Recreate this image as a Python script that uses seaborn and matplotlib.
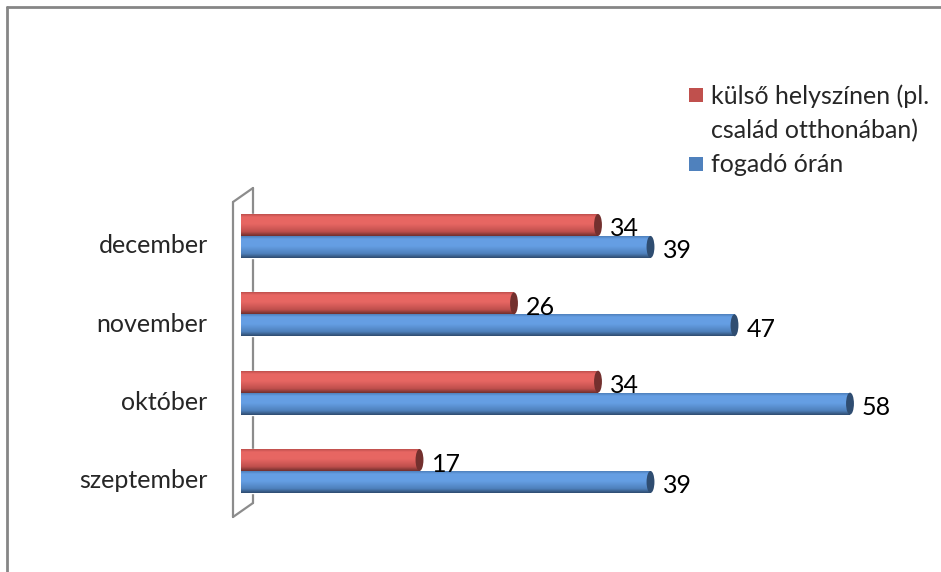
import numpy as np
import pandas as pd
import matplotlib
matplotlib.use("Agg")
import matplotlib.pyplot as plt
from matplotlib.lines import Line2D
from matplotlib.patches import Rectangle, Ellipse
from matplotlib.colors import to_rgb
import matplotlib.transforms as mtrans
import seaborn as sns

# --- data ---
months = ["december", "november", "október", "szeptember"]
series_names = ["külső helyszínen (pl.\ncsalád otthonában)", "fogadó órán"]
kulso = [34, 26, 34, 17]
fogado = [39, 47, 58, 39]

RED = "#C0504D"
BLUE = "#4F81BD"
FONT = "Lato"
FS = 18

df = pd.DataFrame({
    "honap": months * 2,
    "ertek": kulso + fogado,
    "sorozat": [series_names[0]] * len(months) + [series_names[1]] * len(months),
})

sns.set_style("white")
plt.rcParams["font.family"] = [FONT, "DejaVu Sans"]

W, H = 941, 572
fig = plt.figure(figsize=(W / 100, H / 100), dpi=100)
ax = fig.add_axes([241 / W, 1 - 518 / H, 630 / W, (518 - 185) / H])

sns.barplot(data=df, y="honap", x="ertek", hue="sorozat", orient="h",
            palette=[RED, BLUE], hue_order=series_names, order=months,
            width=0.56, gap=0, saturation=1, legend=False, ax=ax)

XMAX = 60


def shades(base):
    b = np.array(to_rgb(base))
    light = np.clip(b * 1.15 + 0.04, 0, 1)
    dark = b * 0.6
    stops = np.array([0.0, 0.12, 0.45, 0.8, 1.0])
    cols = np.array([b, light, light, b, dark])
    t = np.linspace(0, 1, 40)
    grad = np.stack([np.interp(t, stops, cols[:, k]) for k in range(3)], axis=1)
    return grad[:, None, :], tuple(dark)


# cylinder shading on the seaborn bars
for p in list(ax.patches):
    fc = p.get_facecolor()[:3]
    base = RED if np.allclose(fc, to_rgb(RED), atol=0.02) else BLUE
    x0, y0 = p.get_x(), p.get_y()
    w, h = p.get_width(), p.get_height()
    grad, dark = shades(base)
    im = ax.imshow(grad, extent=(x0, x0 + w, y0 + h, y0), origin="upper",
                   aspect="auto", zorder=2, interpolation="bilinear")
    im.set_clip_path(p)
    cap = Ellipse((x0 + w, y0 + h / 2), 0.75, h, facecolor=dark,
                  edgecolor="none", zorder=3)
    ax.add_patch(cap)
    off = mtrans.offset_copy(ax.transData, fig=fig, x=12, y=-4, units="dots")
    ax.text(x0 + w, y0 + h / 2, f"{w:.0f}", transform=off, ha="left",
            va="center", fontsize=FS, color="black", zorder=4)

ax.set_xlim(0, XMAX)
ax.set_ylim(3.6, -0.65)
ax.set_xlabel("")
ax.set_ylabel("")
ax.set_xticks([])
for s in ax.spines.values():
    s.set_visible(False)
ax.tick_params(axis="y", length=0, pad=24, labelsize=FS)
for lab in ax.get_yticklabels():
    lab.set_transform(lab.get_transform() +
                      mtrans.ScaledTranslation(0, -8 / 100, fig.dpi_scale_trans))
ax.patch.set_alpha(0)


# 3D side wall
def fx(px):
    return px / W


def fy(py):
    return 1 - py / H


wall = dict(color="#8C8C8C", lw=1.6, zorder=0)
fig.add_artist(Line2D([fx(233), fx(233)], [fy(202), fy(517)], **wall))
fig.add_artist(Line2D([fx(253), fx(253)], [fy(188), fy(503)], **wall))
fig.add_artist(Line2D([fx(233), fx(253)], [fy(202), fy(188)], **wall))
fig.add_artist(Line2D([fx(233), fx(253)], [fy(517), fy(503)], **wall))

# legend
fig.add_artist(Rectangle((fx(689), fy(102)), 14 / W, 14 / H,
                         facecolor=RED, edgecolor="none"))
fig.text(fx(711), fy(84), series_names[0], ha="left", va="top",
         fontsize=FS, linespacing=1.6)
fig.add_artist(Rectangle((fx(689), fy(171)), 14 / W, 14 / H,
                         facecolor=BLUE, edgecolor="none"))
fig.text(fx(711), fy(164), series_names[1], ha="left", va="center",
         fontsize=FS)

# chart area border
border = dict(color="#868686", lw=2)
fig.add_artist(Line2D([fx(7), fx(7)], [0, fy(7)], **border))
fig.add_artist(Line2D([fx(7), 1], [fy(7), fy(7)], **border))

fig.savefig("out.png", dpi=100)
